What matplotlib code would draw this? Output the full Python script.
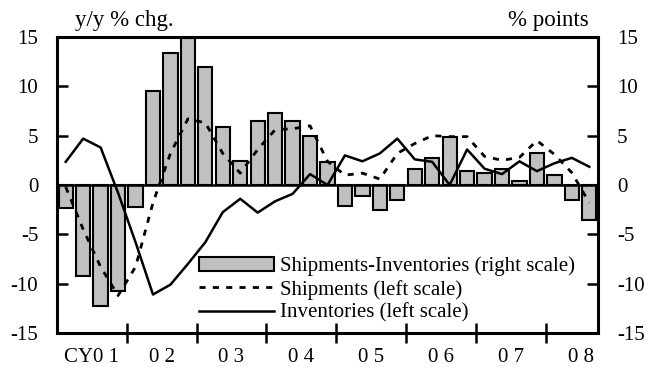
import matplotlib
matplotlib.use("Agg")
import matplotlib.pyplot as plt
import numpy as np

plt.rcParams['font.family'] = ['Liberation Serif', 'DejaVu Serif']

year_labels = ["CY0 1", "0 2", "0 3", "0 4", "0 5", "0 6", "0 7", "0 8"]

# quarterly data, CY2001 Q1 .. CY2008 Q3
diff = [-2.3, -9.2, -12.3, -10.7, -2.2, 9.5, 13.4, 14.85,
        11.95, 5.9, 2.45, 6.45, 7.3, 6.5, 5.0, 2.35,
        -2.15, -1.15, -2.5, -1.5, 1.6, 2.75, 4.9, 1.4,
        1.25, 1.6, 0.45, 3.2, 1.0, -1.55, -3.5]
shipments = [-0.2, -4.5, -8.3, -11.2, -8.3, -1.8, 3.2, 6.7,
             6.3, 3.2, 1.2, 3.6, 5.6, 5.7, 6.0, 2.4,
             1.0, 1.2, 0.6, 3.2, 4.2, 5.0, 4.9, 4.9,
             2.9, 2.5, 2.8, 4.5, 3.1, 1.25, -1.8]
inventories = [2.35, 4.7, 3.8, -0.8, -5.8, -11.1, -10.1, -8.0,
               -5.8, -2.75, -1.4, -2.8, -1.65, -0.9, 1.1, 0.0,
               3.0, 2.4, 3.2, 4.7, 2.6, 2.35, 0.0, 3.6,
               1.65, 1.1, 2.4, 1.4, 2.2, 2.75, 1.85]

n = len(diff)
x = np.arange(n)
FS = 15

fig = plt.figure(figsize=(6.5, 3.76), dpi=100)
ax = fig.add_axes([0.0877, 0.1144, 0.8323, 0.7872])

bars = ax.bar(x, diff, width=0.82, color='#c0c0c0', edgecolor='black',
              linewidth=1.5, label='Shipments-Inventories (right scale)', zorder=2)
l1, = ax.plot(x, shipments, color='black', lw=2.0, linestyle=(0, (2.2, 2.6)),
              label='Shipments (left scale)', zorder=3)
l2, = ax.plot(x, inventories, color='black', lw=1.8,
              label='Inventories (left scale)', zorder=3)
ax.axhline(0, color='black', lw=1.8, zorder=2.5)

ax.set_xlim(-0.5, n - 0.5)
ax.set_ylim(-15, 15)
ax.set_yticks(np.arange(-15, 16, 5))
ax.set_yticklabels([str(v) for v in range(-15, 16, 5)])

boundaries = np.arange(3.5, n - 0.5, 4)
ax.set_xticks(boundaries)
ax.set_xticklabels([])
ax.tick_params(axis='x', direction='inout', length=14, width=1.8)
centers = np.arange(1.5, n + 1, 4)
ax.set_xticks(centers, minor=True)
ax.set_xticklabels(year_labels, minor=True, fontsize=FS)
ax.tick_params(axis='x', which='minor', length=0, pad=11)

ax.tick_params(axis='y', direction='in', length=8, width=1.8,
               left=True, right=True, labelleft=True, labelright=True,
               labelsize=FS, pad=13.5)

for s in ax.spines.values():
    s.set_linewidth(2.2)

fig.text(0.115, 0.945, 'y/y % chg.', fontsize=16.5, ha='left', va='center')
fig.text(0.905, 0.945, '% points', fontsize=16.5, ha='right', va='center')

leg = ax.legend(handles=[bars, l1, l2], loc='lower left',
                bbox_to_anchor=(0.235, -0.015), frameon=False, fontsize=FS,
                handlelength=3.6, handletextpad=0.3, labelspacing=0.17,
                borderpad=0.2)

fig.savefig('out.png', dpi=100)
